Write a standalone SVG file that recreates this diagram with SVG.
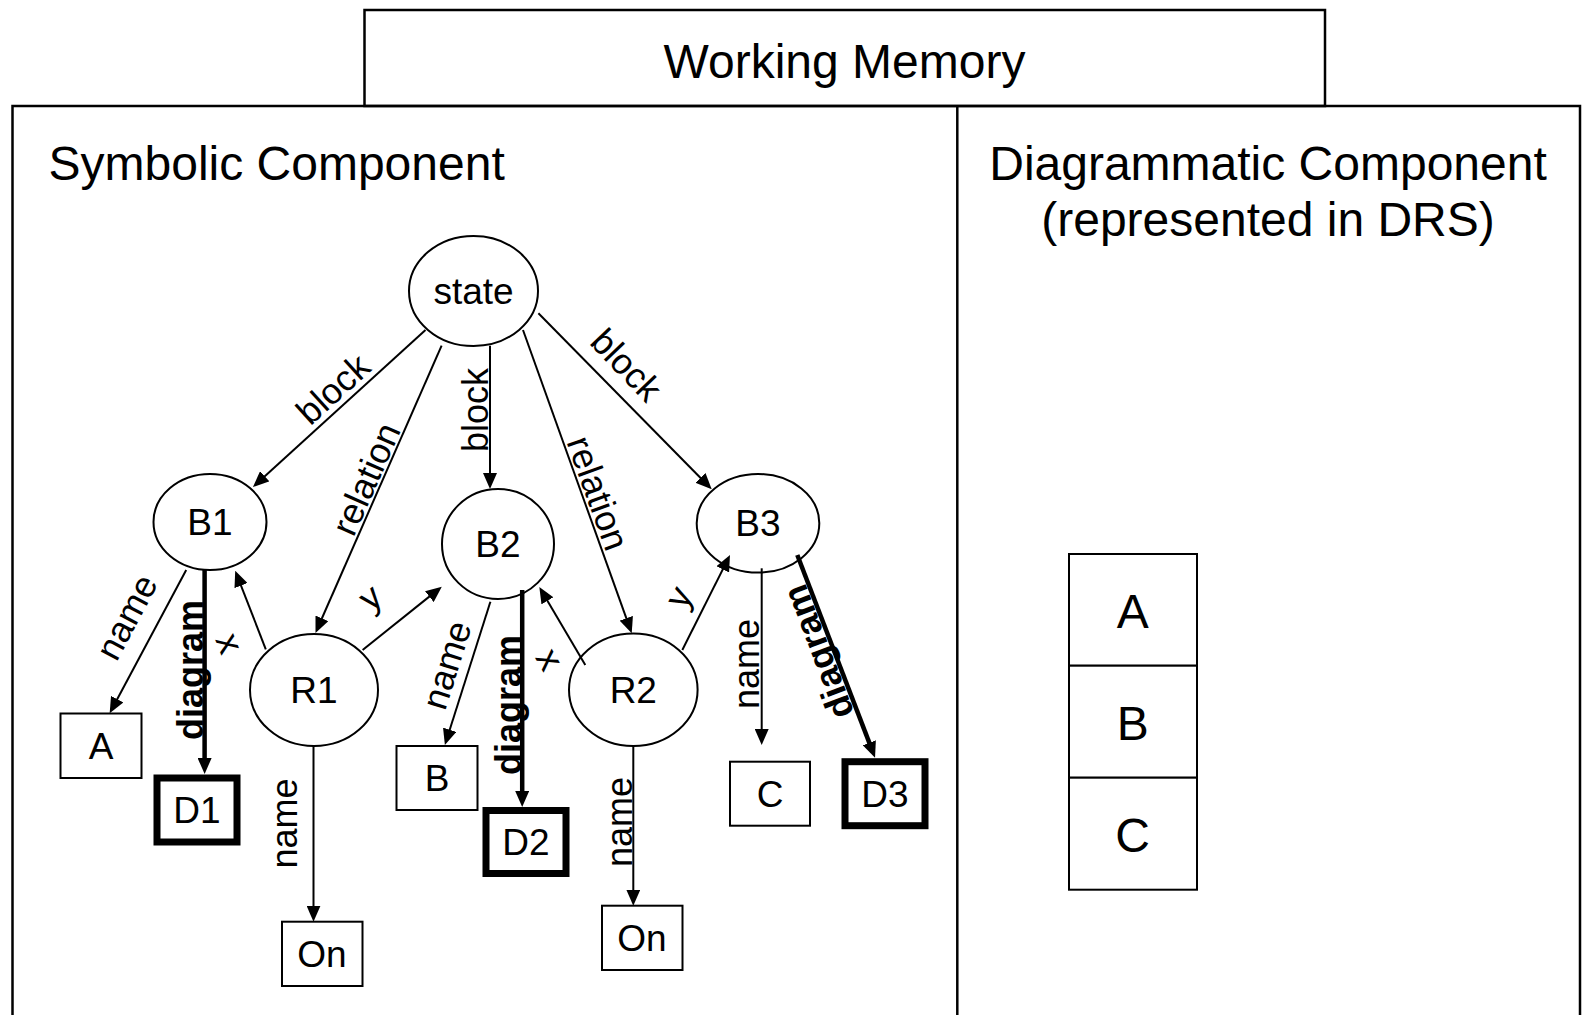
<svg xmlns="http://www.w3.org/2000/svg" width="1583" height="1015" viewBox="0 0 1583 1015">
  <defs>
    <!-- filled arrowhead; tip sits 6px past the path end -->
    <marker id="arrow" markerUnits="userSpaceOnUse" markerWidth="16" markerHeight="14" refX="10" refY="7" orient="auto">
      <path d="M0,0 L16,7 L0,14 z" fill="#000"/>
    </marker>
    <style>
      text { font-family: "Liberation Sans", Arial, Helvetica, sans-serif; fill: #000; }
      .frame { fill: none; stroke: #000; stroke-width: 2.5; }
      .title { font-size: 48px; }
      .mid { text-anchor: middle; }
      .node ellipse, .node rect { fill: #fff; stroke: #000; stroke-width: 2; }
      .node rect.diag { stroke-width: 7; }
      .node text { font-size: 37px; text-anchor: middle; }
      .edge { fill: none; stroke: #000; stroke-width: 2; marker-end: url(#arrow); }
      .edge.thick { stroke-width: 4.5; }
      .lbl { font-size: 36px; text-anchor: middle; dominant-baseline: central; }
      .lbl.bold { font-weight: bold; }
      .cell { fill: #fff; stroke: #000; stroke-width: 2; }
    </style>
  </defs>

  <rect width="1583" height="1015" fill="#fff"/>

  <!-- outer frames -->
  <g id="frames">
    <rect class="frame" x="364.5" y="10" width="960.5" height="96"/>
    <rect class="frame" x="12.5" y="106" width="1567.5" height="930"/>
    <line class="frame" x1="957.3" y1="106" x2="957.3" y2="1020"/>
    <text class="title mid" x="844.5" y="78">Working Memory</text>
    <text class="title" x="48.5" y="180">Symbolic Component</text>
    <text class="title mid" x="1268" y="180">Diagrammatic Component</text>
    <text class="title mid" x="1268" y="236">(represented in DRS)</text>
  </g>

  <!-- symbolic nodes -->
  <g id="state" class="node">
    <ellipse cx="473.5" cy="291" rx="64.5" ry="55"/>
    <text x="473.5" y="304">state</text>
  </g>
  <g id="B1" class="node">
    <ellipse cx="210" cy="522" rx="56.5" ry="48"/>
    <text x="210" y="535">B1</text>
  </g>
  <g id="B2" class="node">
    <ellipse cx="498" cy="544" rx="56" ry="55"/>
    <text x="498" y="557">B2</text>
  </g>
  <g id="B3" class="node">
    <ellipse cx="758" cy="523.3" rx="61.3" ry="49.3"/>
    <text x="758" y="536">B3</text>
  </g>
  <g id="R1" class="node">
    <ellipse cx="314" cy="690" rx="64" ry="56"/>
    <text x="314" y="703">R1</text>
  </g>
  <g id="R2" class="node">
    <ellipse cx="633.3" cy="689.7" rx="64.3" ry="56.3"/>
    <text x="633.3" y="702.7">R2</text>
  </g>
  <g id="A" class="node">
    <rect x="60.5" y="713.5" width="81" height="64.5"/>
    <text x="101" y="759">A</text>
  </g>
  <g id="D1" class="node">
    <rect class="diag" x="157" y="778" width="80" height="64"/>
    <text x="197" y="823">D1</text>
  </g>
  <g id="B" class="node">
    <rect x="396.5" y="746" width="81" height="64"/>
    <text x="437" y="791">B</text>
  </g>
  <g id="D2" class="node">
    <rect class="diag" x="486" y="810.5" width="80" height="63"/>
    <text x="526" y="855">D2</text>
  </g>
  <g id="On1" class="node">
    <rect x="282" y="921.7" width="80.5" height="64.3"/>
    <text x="322" y="967">On</text>
  </g>
  <g id="On2" class="node">
    <rect x="602" y="905.7" width="80.5" height="64.3"/>
    <text x="642" y="951">On</text>
  </g>
  <g id="C" class="node">
    <rect x="730" y="761.7" width="80" height="64"/>
    <text x="770" y="807">C</text>
  </g>
  <g id="D3" class="node">
    <rect class="diag" x="845" y="761.7" width="80" height="64"/>
    <text x="885" y="807">D3</text>
  </g>

  <!-- connectors and their labels -->
  <g id="connectors">
    <path class="edge" d="M425.5,330 L257.4,483"/>
    <path class="edge" d="M441.6,345.7 L317.9,627.5"/>
    <path class="edge" d="M490,345.7 L490,483"/>
    <path class="edge" d="M523,330 L629.7,627.7"/>
    <path class="edge" d="M538.4,313.3 L707.5,485"/>
    <path class="edge" d="M186.2,570 L112.5,708"/>
    <path class="edge thick" d="M204.6,570 L204.6,768"/>
    <path class="edge" d="M265.8,649.3 L237.4,576.3"/>
    <path class="edge" d="M362.6,650 L437.1,590.4"/>
    <path class="edge" d="M490.4,601.7 L446.7,739.3"/>
    <path class="edge thick" d="M522.2,590 L522.2,801"/>
    <path class="edge" d="M585.3,665 L542.4,592.2"/>
    <path class="edge" d="M682.3,650 L727.3,560.4"/>
    <path class="edge" d="M313.5,746 L313.5,915.7"/>
    <path class="edge" d="M633.3,746 L633.3,899.7"/>
    <path class="edge" d="M761.7,568.3 L761.7,739"/>
    <path class="edge thick" d="M797.3,555 L872.9,752.1"/>

    <text class="lbl" transform="translate(333,389) rotate(-42.3)">block</text>
    <text class="lbl" transform="translate(366,479) rotate(-66.2)">relation</text>
    <text class="lbl" transform="translate(475,410) rotate(-90)">block</text>
    <text class="lbl" transform="translate(598,493) rotate(70.1)">relation</text>
    <text class="lbl" transform="translate(626.5,365) rotate(46.3)">block</text>
    <text class="lbl" transform="translate(126.5,617) rotate(-62)">name</text>
    <text class="lbl bold" transform="translate(190,670) rotate(-90)">diagram</text>
    <text class="lbl" transform="translate(230,643) rotate(68.7)">x</text>
    <text class="lbl" transform="translate(370,597) rotate(-39)">y</text>
    <text class="lbl" transform="translate(446.5,665) rotate(-72.6)">name</text>
    <text class="lbl bold" transform="translate(508,705) rotate(-90)">diagram</text>
    <text class="lbl" transform="translate(550,659) rotate(60)">x</text>
    <text class="lbl" transform="translate(678.3,597) rotate(-62)">y</text>
    <text class="lbl" transform="translate(284,823.5) rotate(-90)">name</text>
    <text class="lbl" transform="translate(619.2,822) rotate(-90)">name</text>
    <text class="lbl" transform="translate(746.5,664) rotate(-90)">name</text>
    <text class="lbl bold" transform="translate(818,652) rotate(-110.8)">diagram</text>
  </g>

  <!-- diagrammatic representation: stacked blocks -->
  <g id="drs-stack">
    <rect class="cell" x="1069" y="554" width="128" height="111.7"/>
    <rect class="cell" x="1069" y="665.7" width="128" height="112"/>
    <rect class="cell" x="1069" y="777.7" width="128" height="112"/>
    <text class="title mid" x="1132.7" y="628.3">A</text>
    <text class="title mid" x="1132.7" y="740">B</text>
    <text class="title mid" x="1132.7" y="852">C</text>
  </g>
</svg>
